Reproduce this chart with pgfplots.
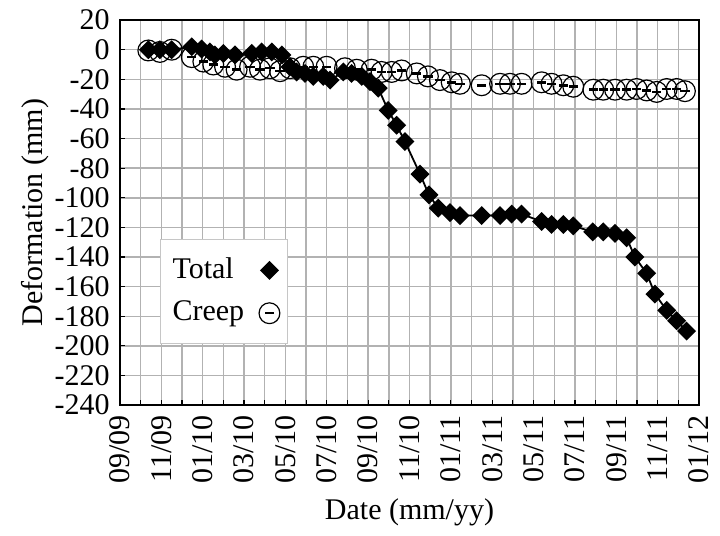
\documentclass[border=0pt]{standalone}
\usepackage{fontspec}
\setmainfont{Liberation Serif}
\usepackage{pgfplots}
\pgfplotsset{compat=1.18}
\pgfdeclareplotmark{ominus}{%
  \pgfpathcircle{\pgfpointorigin}{\pgfplotmarksize}\pgfusepathqstroke
  \pgfpathrectangle{\pgfqpoint{-0.45\pgfplotmarksize}{-0.12\pgfplotmarksize}}{\pgfqpoint{0.9\pgfplotmarksize}{0.24\pgfplotmarksize}}\pgfusepathqfill}
\begin{document}
\fontsize{15bp}{18bp}\selectfont
\begin{tikzpicture}
\begin{axis}[
  name=ax,
  scale only axis,
  width=289.5bp, height=192.5bp,
  xmin=0, xmax=28, ymin=-240, ymax=20,
  xtick={0,2,...,28},
  xticklabels={09/09,11/09,01/10,03/10,05/10,07/10,09/10,11/10,01/11,03/11,05/11,07/11,09/11,11/11,01/12},
  minor xtick={1,3,...,27},
  ytick={-240,-220,...,20},
  xticklabel style={rotate=90, anchor=east, font=\fontsize{15bp}{18bp}\selectfont},
  yticklabel style={font=\fontsize{15bp}{18bp}\selectfont},
  /pgf/number format/assume math mode=true,
  xtick pos=bottom, ytick pos=left,
  tick align=inside,
  major tick length=2.5bp, minor tick length=2.5bp,
  tick style={black, line width=0.6bp},
  grid=both,
  major grid style={gray!60, line width=0.7bp},
  minor grid style={gray!60, line width=0.7bp},
  axis line style={black, line width=0.9bp},
  xlabel={Date (mm/yy)},
  ylabel={Deformation (mm)},
  every axis x label/.style={at={(axis description cs:0.5,-0.278)}, anchor=center, font=\fontsize{15bp}{18bp}\selectfont},
  every axis y label/.style={at={(axis description cs:-0.147,0.5)}, rotate=90, anchor=center, font=\fontsize{15bp}{18bp}\selectfont},
  legend style={at={(axis description cs:0.069,0.431)}, anchor=north west, draw=gray!45, fill=white, line width=0.6bp, font=\fontsize{15bp}{18bp}\selectfont, inner xsep=4bp, inner ysep=7bp, row sep=5bp},
  legend cell align=left,
  legend plot pos=right,
  legend image code/.code={\path (0cm,0cm) (0.42cm,0cm); \draw[#1] plot[only marks] coordinates {(0.36cm,0cm)};},
]
\addplot[black, line width=0.9bp, mark=square*, mark size=2.9bp, mark options={rotate=45, solid}] coordinates {
(1.37,0) (1.93,0) (2.50,0) (3.47,2) (3.95,0.5) (4.35,-1.5) (4.59,-3.5) (5.00,-2.5) (5.56,-3.5)
(6.37,-2.5) (6.85,-1.5) (7.34,-1.5) (7.83,-3.5) (8.22,-11.5) (8.54,-15) (8.95,-16) (9.35,-18)
(9.83,-18) (10.16,-20.5) (10.80,-15) (11.20,-16) (11.69,-18) (12.09,-21.5) (12.49,-26)
(12.97,-41) (13.38,-51) (13.78,-62) (14.51,-84) (14.94,-98) (15.39,-107) (15.96,-110)
(16.44,-112) (17.49,-112) (18.38,-112) (18.94,-111) (19.42,-111) (20.39,-116) (20.87,-118)
(21.44,-118) (21.92,-119) (22.86,-123) (23.37,-123) (23.94,-124) (24.50,-127) (24.90,-140)
(25.47,-151) (25.87,-165) (26.44,-176) (26.92,-183) (27.40,-190)
};
\addlegendentry{Total}
\addplot[black, draw=none, mark=ominus, mark size=5.2bp, mark options={line width=0.6bp}] coordinates {
(1.37,-0.5) (1.93,-1.5) (2.50,0) (3.47,-5) (4.03,-8) (4.51,-10) (5.08,-11.5) (5.64,-13.5)
(6.29,-11.5) (6.77,-13.5) (7.25,-12.5) (7.74,-14.5) (8.22,-12.5) (8.86,-11.5) (9.35,-11.5)
(9.99,-11.5) (10.88,-12.5) (11.45,-13.5) (12.17,-13.5) (12.65,-15) (13.14,-15) (13.62,-14)
(14.35,-16) (14.89,-18) (15.47,-20.5) (16.04,-22) (16.44,-23) (17.49,-24) (18.38,-23)
(18.86,-23) (19.42,-23) (20.39,-22) (20.87,-23) (21.44,-24) (21.92,-25) (22.89,-27)
(23.37,-27) (23.94,-27) (24.50,-27) (24.98,-26.5) (25.47,-27.5) (25.95,-28.5) (26.44,-26.5)
(26.92,-26.5) (27.32,-28)
};
\addlegendentry{Creep}
\end{axis}
\path ([shift={(-60bp,-64.5bp)}]ax.south west) rectangle ([shift={(10.5bp,9bp)}]ax.north east);
\end{tikzpicture}
\end{document}
